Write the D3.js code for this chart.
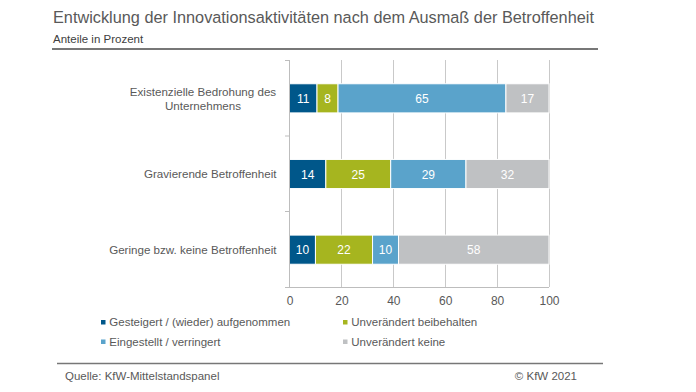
<!DOCTYPE html>
<html><head><meta charset="utf-8">
<script src="https://cdn.jsdelivr.net/npm/d3@7"></script>
<style>body{margin:0;background:#fff;} text{font-family:"Liberation Sans",Arial,sans-serif;}</style>
</head><body>
<svg id="c" width="696" height="392"></svg>
<script>
const categories = [["Existenzielle Bedrohung des","Unternehmens"],["Gravierende Betroffenheit"],["Geringe bzw. keine Betroffenheit"]];
const seriesNames = ["Gesteigert / (wieder) aufgenommen","Unverändert beibehalten","Eingestellt / verringert","Unverändert keine"];
const gesteigert = [10.6,14,10];
const beibehalten = [8.1,25,22];
const eingestellt = [64.7,29,10];
const keine = [16.6,32,58];
const colors = ["#00578a","#a6b51f","#5aa3cb","#bfc1c3"];
const xTicks = [0,20,40,60,80,100];

const svg = d3.select("#c");
const txt = "#595959";
svg.append("text").attr("x",53).attr("y",23).attr("font-size",16.3).attr("fill",txt).text("Entwicklung der Innovationsaktivitäten nach dem Ausmaß der Betroffenheit");
svg.append("text").attr("x",53).attr("y",43).attr("font-size",11.5).attr("fill","#404040").text("Anteile in Prozent");
svg.append("line").attr("x1",52).attr("x2",598).attr("y1",49).attr("y2",49).attr("stroke","#777").attr("stroke-width",2);

const x = d3.scaleLinear().domain([0,100]).range([289.5,549]);
const y = d3.scaleBand().domain(d3.range(categories.length)).range([60.5,287.5]).paddingInner(0.615).paddingOuter(0.3075);

// gridlines
svg.append("g").selectAll("line").data(xTicks.slice(1)).join("line")
  .attr("x1",d=>Math.round(x(d))+0.5).attr("x2",d=>Math.round(x(d))+0.5).attr("y1",60).attr("y2",287)
  .attr("stroke","#c9c9c9").attr("stroke-width",1);

const series = [gesteigert,beibehalten,eingestellt,keine];
const rows = categories.map((c,i)=>{const o={}; series.forEach((s,j)=>o[j]=s[i]); return o;});
const stacked = d3.stack().keys(d3.range(series.length))(rows);

const g = svg.append("g");
stacked.forEach((layer,j)=>{
  g.selectAll(null).data(layer).join("rect")
    .attr("x",d=>x(d[0])).attr("width",d=>x(d[1])-x(d[0]))
    .attr("y",(d,i)=>y(i)).attr("height",y.bandwidth())
    .attr("fill",colors[j]).attr("stroke","#fff").attr("stroke-width",1);
  g.selectAll(null).data(layer).join("text")
    .attr("x",d=>(x(d[0])+x(d[1]))/2).attr("y",(d,i)=>y(i)+y.bandwidth()/2+4.5)
    .attr("text-anchor","middle").attr("font-size",12).attr("fill","#fff")
    .text(d=>Math.round(d[1]-d[0]));
});

// y axis line and category separator ticks
svg.append("line").attr("x1",289.5).attr("x2",289.5).attr("y1",60).attr("y2",288).attr("stroke","#bdbdbd");
const seps = [60.5, 136, 211.5];
svg.append("g").selectAll("line").data(seps).join("line")
  .attr("x1",285).attr("x2",289.5).attr("y1",d=>d).attr("y2",d=>d).attr("stroke","#bdbdbd");

// x axis
const xa = svg.append("g").attr("transform","translate(0,287.5)")
  .call(d3.axisBottom(x).tickValues(xTicks).tickSize(0).tickPadding(9));
xa.select(".domain").attr("stroke","#bdbdbd").attr("d","M285,0H549");
xa.selectAll("text").attr("font-size",12).attr("fill",txt).attr("font-family","Liberation Sans, Arial, sans-serif");

// category labels
categories.forEach((lines,i)=>{
  const cy = y(i)+y.bandwidth()/2;
  const t = svg.append("text").attr("text-anchor","middle").attr("font-size",11.6).attr("fill",txt);
  const n = lines.length;
  lines.forEach((l,k)=>{
    t.append("tspan").attr("x",n>1?203:0).attr("y",cy+4.3+(k-(n-1)/2)*14).text(l);
  });
  if(n===1){ t.attr("text-anchor","end"); t.selectAll("tspan").attr("x",276.5); }
});

// legend
const legPos = [[101,326],[343,326],[101,345.5],[343,345.5]];
seriesNames.forEach((s,j)=>{
  const [lx,ly]=legPos[j];
  svg.append("rect").attr("x",lx).attr("y",ly-6).attr("width",4.5).attr("height",4.5).attr("fill",colors[j]);
  svg.append("text").attr("x",lx+8.3).attr("y",ly).attr("font-size",11.5).attr("fill",txt).text(s);
});

svg.append("line").attr("x1",57).attr("x2",603).attr("y1",363.5).attr("y2",363.5).attr("stroke","#777").attr("stroke-width",1.5);
svg.append("text").attr("x",65).attr("y",380).attr("font-size",11.5).attr("fill",txt).text("Quelle: KfW-Mittelstandspanel");
svg.append("text").attr("x",577).attr("y",380).attr("text-anchor","end").attr("font-size",11.5).attr("fill",txt).text("© KfW 2021");
</script>
</body></html>
